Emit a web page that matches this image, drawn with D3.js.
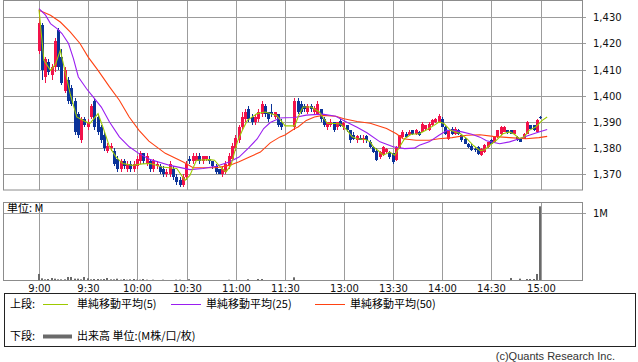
<!DOCTYPE html>
<html>
<head>
<meta charset="utf-8">
<script src="https://cdn.jsdelivr.net/npm/d3@7"></script>
<style>
body { margin: 0; background: #fff; }
svg text { font-family: "DejaVu Sans", sans-serif; }
.jp { font-family: "Noto Sans CJK JP", sans-serif; }
</style>
</head>
<body>
<svg id="my_container" width="638" height="362"></svg>
<script>
// x axis ticks (minutes after 9:00)
var timeLabels = ["9:00", "9:30", "10:00", "10:30", "11:00", "11:30", "13:00", "13:30", "14:00", "14:30", "15:00"];
var timeMinutes = [0, 30, 60, 90, 120, 150, 240, 270, 300, 330, 360];
var priceTicks = [1370, 1380, 1390, 1400, 1410, 1420, 1430];

// 2 minute bars, morning 9:00-11:28 then afternoon 12:30-15:00
var opens = [
1417,1427,1407,1413,1408,1411,1425,1415,1402,1406,
1403,1398,1393,1383,1391,1388,1392,1398,1392,1388,
1385,1379,1380,1379,1376,1372,1375,1372,1374,1372,
1373,1375,1378,1374,1375,1372,1373,1373,1372,1370,
1370,1372,1369,1368,1366,1369,1376,1375,1375,1377,
1375,1376,1376,1375,1373,1372,1370,1371,1373,1376,
1380,1383,1388,1391,1395,1392,1390,1391,1393,1396,
1394,1394,1392,1393,1390,
1388,1398,1397,1396,1394,1396,1394,1393,1395,1391,
1388,1389,1390,1388,1390.5,1388,1389,1387,1385,1383,
1384,1383,1384.5,1382.5,1380.5,1379,1376.5,1377.5,1378.5,1378.5,
1378,1375.5,1380,1384.3,1385.5,1385,1386.8,1385.5,1386.2,1386.2,
1387.5,1386.8,1388.7,1390,1390,1391.3,1388.1,1383.6,1387.5,1385.5,
1386.8,1384.9,1383.6,1381.7,1381,1379.8,1380.5,1377.3,1378.5,1380.5,
1383,1382.4,1384.3,1385.5,1386.2,1386.8,1386.8,1385.5,1384.3,1383.6,
1383.6,1385.5,1388.7,1388.7,1386.2,1392
];
var highs = [
1433,1428,1415,1414,1412,1422,1426,1418,1411,1407,
1404,1399,1394,1392,1392,1391,1397,1399,1393,1389,
1386,1382,1382,1380,1377,1376,1376,1375,1375,1375,
1377,1379,1378,1378,1376,1376,1375,1374,1373,1372,
1375,1373,1370,1369,1370,1375,1377,1378,1378,1378,
1377,1377,1377,1375,1374,1372,1373,1375,1378,1382,
1385,1389,1394,1395,1396,1393,1393,1395,1398,1397,
1394,1397,1394,1393,1391,
1399,1399,1398,1397,1397,1397,1396,1398,1395,1392,
1390,1391,1390,1390,1391,1390,1389,1387,1386,1385,
1385,1385,1385,1383,1381,1380,1379,1381,1380,1379,
1378,1381,1385,1387,1386,1387,1387,1387.5,1386.5,1390,
1389,1390,1391,1391.5,1393,1392,1388.5,1387,1388,1388,
1387.5,1385.5,1384,1382,1381.5,1380.5,1381,1380,1381.5,1382.5,
1383.5,1384.5,1387,1388.5,1388.5,1387,1387,1387,1384.5,1384,
1385.7,1390.5,1389,1389,1391,1392.2
];
var lows = [
1416,1406,1405,1408,1406,1409,1410,1404,1401,1397,
1396,1385,1384,1382,1388,1387,1391,1387,1385,1382,
1379,1378,1379,1373,1371,1371,1372,1371,1371,1371,
1372,1374,1374,1373,1371,1371,1372,1370,1369,1369,
1369,1368,1366,1365,1365,1368,1374,1374,1375,1374,
1374,1375,1374,1372,1370,1370,1369,1370,1372,1375,
1379,1382,1387,1390,1390,1389,1389,1390,1392,1392,
1390,1392,1391,1388,1387,
1387,1393,1393,1394,1393,1394,1393,1393,1390,1388,
1387,1388,1386,1387,1388,1387,1386,1382,1383,1382,
1383,1382,1382,1380,1378,1375,1376,1377,1378,1376,
1374,1375,1379.5,1384,1384,1384.5,1385,1385,1384.5,1386,
1387,1386.5,1388.5,1389.5,1389.5,1388,1385,1383,1385,1385,
1385,1382.5,1381.5,1380,1379,1378.5,1377.5,1377,1378,1380,
1381.5,1382,1384,1385,1386,1385.5,1385.3,1385.3,1382.8,1382.2,
1383.3,1385.3,1387.3,1386.5,1386,1391.3
];
var closes = [
1428,1410,1414,1409,1411,1421,1411,1405,1410,1398,
1397,1386,1385,1391,1389,1390,1396,1388,1386,1383,
1380,1381,1381,1374,1372,1375,1373,1374,1372,1374,
1376,1378,1375,1377,1372,1375,1374,1371,1370,1371,
1374,1369,1367,1366,1369,1374,1375,1377,1377,1375,
1377,1377,1375,1373,1371,1370,1372,1374,1377,1381,
1384,1388,1392,1394,1391,1390,1392,1394,1397,1393,
1391,1393,1394,1389,1388,
1398,1394,1394,1395,1396,1395,1395.5,1397,1391,1389,
1390,1390,1387,1390,1388.5,1389.5,1387,1383,1383.5,1384.5,
1383.2,1384,1383,1380.5,1378.5,1375.5,1378.5,1380.5,1379.8,1376.6,
1374.7,1380.5,1384.9,1386.2,1384.3,1386.2,1385.3,1386.8,1384.9,1389.4,
1388.7,1389.4,1390.9,1391.3,1392.2,1388.1,1385.5,1386.8,1385.5,1387.5,
1385.5,1383,1381.7,1380.5,1379.2,1379.6,1377.9,1379.8,1381.1,1382.4,
1381.7,1384.3,1386.8,1388.1,1388.1,1385.8,1385.5,1386.8,1383,1382.4,
1385.5,1390,1387.5,1386.8,1390.6,1391.4
];
// volume, millions
var volumes = [
0.09,0.025,0.01,0.015,0.03,0.02,0.01,0.01,0.01,0.045,
0.045,0.02,0.02,0.01,0.045,0.025,0.01,0.015,0.015,0.01,
0.015,0.03,0.01,0.01,0.02,0.005,0.015,0.005,0.01,0.015,
0.005,0.005,0.015,0.005,0,0.005,0,0,0.005,0,
0,0,0.005,0.005,0,0,0.012,0,0,0,
0,0,0,0,0,0,0,0,0.005,0,
0,0,0,0,0.012,0,0,0.015,0.015,0,
0,0,0,0,0,
0.04,0,0,0,0,0,0,0,0,0,
0,0,0,0,0,0,0,0,0,0,
0,0,0,0,0,0,0,0,0,0,
0,0,0,0,0,0,0,0,0,0,
0,0,0,0,0,0,0,0,0,0,
0,0,0,0,0,0,0,0,0,0,
0,0,0,0,0,0,0.03,0,0,0.02,
0,0.015,0.015,0.015,0.09,1.1
];

// moving averages
var ma5Times = [0,3,7,10,13,16,19,23,27,31,36,39,43,47,51,57,63,68,75,84,89,92,96,104,107,111,114,117,119,121,124,127,133,138,141,145,149,150,
210,212,215,220,225,227,230,235,238,242,245,248,253,256,258,261,264,268,271,274,277,281,286,290,295,298,301,305,308,311,315,319,323,326,329,333,337,341,344,347,350,353,357,361,364];
var ma5Values = [1433,1413.6,1409.7,1412,1417.4,1409,1400.8,1391.9,1390.6,1389.4,1393.2,1388,1380.5,1376.6,1374.1,1373.4,1374,1374.1,1372.8,1372.2,1367.7,1369.6,1375.4,1375.6,1375.4,1372.5,1370.9,1373.4,1377.9,1382.5,1386.8,1390.6,1393.2,1393.8,1393.2,1392.5,1389.4,1388.5,
1388.5,1391.9,1395.7,1395.7,1393.8,1391.9,1389.4,1389.4,1389.2,1386.8,1384.3,1383.6,1383.3,1382.4,1380.5,1379,1377.3,1378.5,1377.3,1380.5,1383.6,1385.3,1385.5,1386.8,1388.7,1390,1389.4,1386.8,1386.2,1385.6,1383.6,1381,1379,1379.4,1381.1,1383,1385.5,1386.2,1385.3,1383.6,1384.3,1386.8,1388.1,1390.6,1391.9];

var ma25Times = [0,4,7,11,14,18,21,24,29,33,38,43,49,55,61,68,80,92,100,108,116,122,128,133,137,141,147,150,
210,217,227,235,240,248,254,262,270,277,283,286,292,298,303,307,312,318,323,327,335,341,347,353,359,364];
var ma25Values = [1433.3,1430.8,1427.6,1425.7,1423.8,1420,1414.2,1407.2,1402.7,1399.6,1395.7,1390,1384.3,1380.5,1377.9,1375.6,1373.4,1371.8,1372.2,1373.1,1374.7,1376.6,1380.2,1383.5,1387.5,1389.8,1391.5,1391.6,
1391.7,1392.6,1393,1392.2,1390.5,1388,1385.9,1382.4,1380.5,1379.8,1380,1381.1,1382.4,1384.9,1386.8,1386.8,1386.2,1385.3,1384.2,1382.8,1381.7,1382.4,1383.6,1384.9,1386.2,1387.1];

var ma50Times = [0,7,13,19,25,30,36,43,49,55,61,67,77,88,94,108,116,122,128,135,141,147,150,
210,212,217,222,227,235,240,248,256,266,272,276,284,292,298,306,315,323,331,341,351,359,364];
var ma50Values = [1432.7,1430.8,1428.2,1424.4,1420,1414.8,1409.7,1403.4,1398.3,1391.9,1386.8,1382.7,1378,1374.7,1372.5,1372.5,1373.4,1374.8,1376.5,1378.5,1382,1384.3,1385,
1387.5,1388.1,1390.6,1391.9,1392.5,1392.2,1391.2,1390.2,1389.5,1387.5,1385.5,1383.6,1383,1383,1383.6,1384,1384.9,1385.1,1384.5,1384,1383.6,1384,1384.5];

var upColor = "#f2124a";
var downColor = "#0b3399";
var gridColor = "#9c9c9c";

var svg = d3.select("#my_container");

var xScale = d3.scaleLinear()
                .domain([0, 150, 210, 360])
                .range([39, 285, 294.8, 540.6]);
var xGrid = xScale.copy().interpolate(d3.interpolateRound);
var yScale = d3.scaleLinear()
                .domain([1370, 1430])
                .range([174.3, 17.3]);
var yGrid = yScale.copy().interpolate(d3.interpolateRound);
var volScale = d3.scaleLinear()
                .domain([0, 1])
                .range([280, 213]);

function barMinute(i){
    // first 75 bars are the morning session
    if (i < 75) return i * 2;
    return 210 + (i - 75) * 2;
}

var bars = opens.map(function(o, i){
    return {t: barMinute(i), o: o, h: highs[i], l: lows[i], c: closes[i], v: volumes[i]};
});

draw_grid();
draw_candles();
draw_averages();
draw_volume();
draw_frames();
draw_legend();

function style_axis(g){
    g.select(".domain").remove();
    g.selectAll("line").attr("stroke", gridColor);
    g.selectAll("text")
        .attr("fill", "#111")
        .style("font-size", "10px")
        .style("font-family", "'DejaVu Sans', sans-serif");
}

function draw_grid(){
    svg.append("g")
        .attr("transform", "translate(586,0)")
        .call(d3.axisRight(yGrid)
                .tickValues(priceTicks)
                .tickSize(-583)
                .tickPadding(7)
                .tickFormat(d3.format(",")))
        .call(style_axis);

    svg.append("g")
        .attr("transform", "translate(0,190)")
        .call(d3.axisBottom(xGrid)
                .tickValues(timeMinutes)
                .tickSize(-190)
                .tickFormat(""))
        .call(style_axis);

    svg.append("g")
        .attr("transform", "translate(586,0)")
        .call(d3.axisRight(volScale)
                .tickValues([1])
                .tickSize(-583)
                .tickPadding(7)
                .tickFormat(function(){ return "1M"; }))
        .call(style_axis);

    svg.append("g")
        .attr("transform", "translate(0,280)")
        .call(d3.axisBottom(xGrid)
                .tickValues(timeMinutes)
                .tickSize(-78)
                .tickPadding(5)
                .tickFormat(function(d, i){ return timeLabels[i]; }))
        .call(style_axis);
}

function draw_candles(){
    var g = svg.append("g");
    g.selectAll("line")
        .data(bars)
        .enter()
        .append("line")
        .attr("x1", function(d){ return Math.floor(xScale(d.t)) + 0.5; })
        .attr("x2", function(d){ return Math.floor(xScale(d.t)) + 0.5; })
        .attr("y1", function(d){ return Math.round(yScale(d.h)); })
        .attr("y2", function(d){ return Math.round(yScale(d.l)); })
        .attr("stroke", function(d){ return d.c >= d.o ? upColor : downColor; })
        .attr("stroke-width", 1);

    g.selectAll("rect")
        .data(bars)
        .enter()
        .append("rect")
        .attr("x", function(d){ return Math.floor(xScale(d.t)) - 1; })
        .attr("width", 3)
        .attr("y", function(d){ return Math.round(yScale(Math.max(d.o, d.c))); })
        .attr("height", function(d){
            var top = Math.round(yScale(Math.max(d.o, d.c)));
            var bottom = Math.round(yScale(Math.min(d.o, d.c)));
            return Math.max(1, bottom - top);
        })
        .attr("fill", function(d){ return d.c >= d.o ? upColor : downColor; });
}

function draw_averages(){
    var line = d3.line()
                .x(function(d){ return xScale(d[0]); })
                .y(function(d){ return yScale(d[1]); });
    var series = [
        {times: ma50Times, values: ma50Values, color: "#ff4212"},
        {times: ma25Times, values: ma25Values, color: "#9a1ef0"},
        {times: ma5Times, values: ma5Values, color: "#9dc900"}
    ];
    series.forEach(function(s){
        svg.append("path")
            .datum(s.times.map(function(t, i){ return [t, s.values[i]]; }))
            .attr("d", line)
            .attr("fill", "none")
            .attr("stroke", s.color)
            .attr("stroke-width", 1.1);
    });
}

function draw_volume(){
    svg.append("g")
        .selectAll("rect")
        .data(bars.filter(function(d){ return d.v > 0; }))
        .enter()
        .append("rect")
        .attr("x", function(d){ return Math.floor(xScale(d.t)) - 1; })
        .attr("width", 2)
        .attr("y", function(d){ return volScale(d.v); })
        .attr("height", function(d){ return Math.max(1, 280 - volScale(d.v)); })
        .attr("fill", "#6a6a6a");

    svg.append("text")
        .attr("class", "jp")
        .attr("x", 7)
        .attr("y", 212)
        .style("font-size", "11px")
        .text("単位: M");
}

function draw_frames(){
    svg.append("rect")
        .attr("x", 3.5).attr("y", 0.5)
        .attr("width", 579).attr("height", 189.5)
        .attr("fill", "none").attr("stroke", "#8c8c8c");
    svg.append("rect")
        .attr("x", 3.5).attr("y", 202.5)
        .attr("width", 579).attr("height", 78)
        .attr("fill", "none").attr("stroke", "#8c8c8c");
}

function draw_legend(){
    svg.append("rect")
        .attr("x", 4.5).attr("y", 293.5)
        .attr("width", 631).attr("height", 53)
        .attr("fill", "none").attr("stroke", "#222");

    var items = [
        {x1: 43, x2: 68, tx: 77, y: 304, color: "#9dc900", w: 1, label: "単純移動平均(5)"},
        {x1: 171, x2: 201, tx: 206, y: 304, color: "#9a1ef0", w: 1, label: "単純移動平均(25)"},
        {x1: 315, x2: 345, tx: 350, y: 304, color: "#ff4212", w: 1, label: "単純移動平均(50)"},
        {x1: 43, x2: 72, tx: 77, y: 336, color: "#6a6a6a", w: 4, label: "出来高 単位:(M株/口/枚)"}
    ];
    items.forEach(function(d){
        svg.append("line")
            .attr("x1", d.x1).attr("x2", d.x2)
            .attr("y1", d.y + 0.5).attr("y2", d.y + 0.5)
            .attr("stroke", d.color)
            .attr("stroke-width", d.w);
        svg.append("text")
            .attr("class", "jp")
            .attr("x", d.tx)
            .attr("y", d.y + 4)
            .style("font-size", "11px")
            .text(d.label);
    });
    svg.append("text").attr("class", "jp").attr("x", 10).attr("y", 308)
        .style("font-size", "11px").text("上段:");
    svg.append("text").attr("class", "jp").attr("x", 10).attr("y", 340)
        .style("font-size", "11px").text("下段:");

    svg.append("text")
        .attr("x", 615)
        .attr("y", 360)
        .attr("text-anchor", "end")
        .style("font-family", "'Liberation Sans', sans-serif")
        .style("font-size", "11px")
        .attr("fill", "#333")
        .text("(c)Quants Research Inc.");
}
</script>
</body>
</html>
